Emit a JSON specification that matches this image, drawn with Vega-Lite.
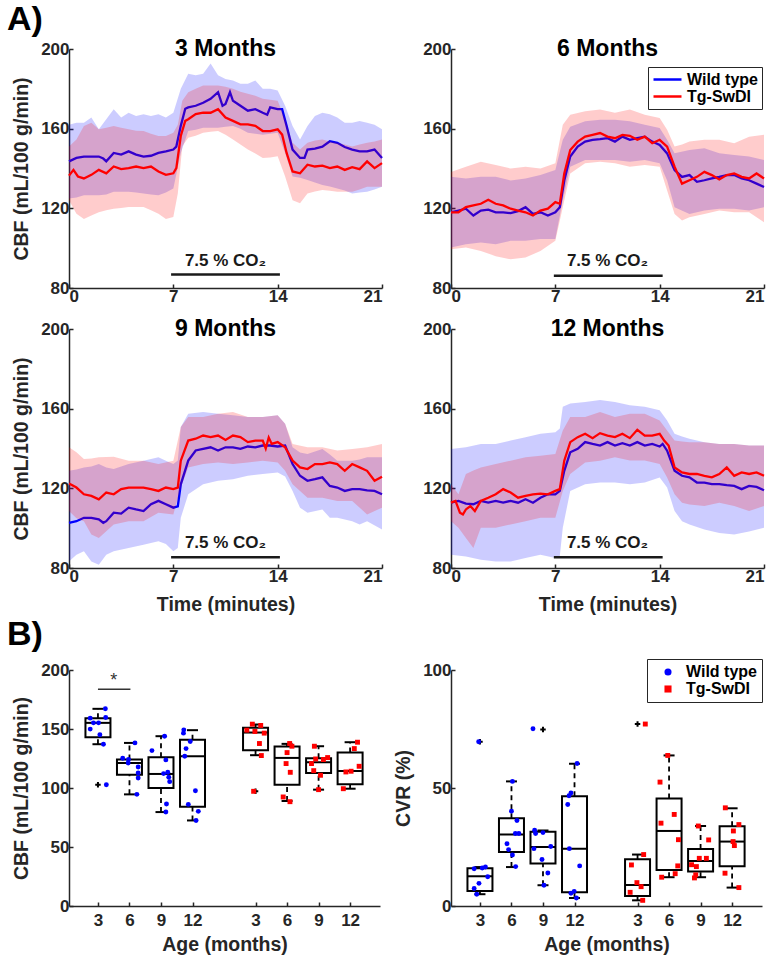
{
"$schema": "https://vega.github.io/schema/vega-lite/v6.json",
"padding": {"left": 7, "top": 3, "right": 5, "bottom": 5},
"background": "white",
"config": {
  "view": {"stroke": null},
  "font": "Liberation Sans",
  "axis": {"labelFont": "Liberation Sans", "labelFontWeight": "bold", "labelFontSize": 17, "labelColor": "#262626",
           "titleFont": "Liberation Sans", "titleFontWeight": "bold", "titleFontSize": 19.5, "titleColor": "#262626",
           "domainColor": "#262626", "domainWidth": 1.5, "tickColor": "#262626", "tickWidth": 1.5, "tickSize": -4,
           "grid": false, "labelPadding": 4, "titlePadding": 4},
  "axisX": {"titlePadding": 11},
  "axisY": {"titlePadding": 9},
  "title": {"font": "Liberation Sans", "fontSize": 23, "fontWeight": "bold", "color": "#000000", "anchor": "middle", "frame": "group", "baseline": "alphabetic", "offset": -21},
  "legend": {"labelFont": "Liberation Sans"}
},
"datasets": {
"lines": [
{"p":3,"g":"Wild type","t":0,"v":143.6},{"p":3,"g":"Wild type","t":0.5,"v":145.3},{"p":3,"g":"Wild type","t":1,"v":146},{"p":3,"g":"Wild type","t":1.5,"v":146},{"p":3,"g":"Wild type","t":2,"v":146},{"p":3,"g":"Wild type","t":2.3,"v":145},{"p":3,"g":"Wild type","t":2.5,"v":143.6},{"p":3,"g":"Wild type","t":3,"v":147.8},{"p":3,"g":"Wild type","t":3.5,"v":147},{"p":3,"g":"Wild type","t":4,"v":148.6},{"p":3,"g":"Wild type","t":4.5,"v":147},{"p":3,"g":"Wild type","t":5,"v":146},{"p":3,"g":"Wild type","t":5.5,"v":146.4},{"p":3,"g":"Wild type","t":6,"v":147.8},{"p":3,"g":"Wild type","t":6.5,"v":148.6},{"p":3,"g":"Wild type","t":7,"v":149.5},{"p":3,"g":"Wild type","t":7.2,"v":151},{"p":3,"g":"Wild type","t":7.5,"v":161.4},{"p":3,"g":"Wild type","t":7.8,"v":170},{"p":3,"g":"Wild type","t":8,"v":170.7},{"p":3,"g":"Wild type","t":8.5,"v":171.5},{"p":3,"g":"Wild type","t":9,"v":173},{"p":3,"g":"Wild type","t":9.5,"v":175},{"p":3,"g":"Wild type","t":10,"v":178.3},{"p":3,"g":"Wild type","t":10.3,"v":171.5},{"p":3,"g":"Wild type","t":10.5,"v":172.4},{"p":3,"g":"Wild type","t":10.8,"v":178.3},{"p":3,"g":"Wild type","t":11,"v":174},{"p":3,"g":"Wild type","t":11.5,"v":171.5},{"p":3,"g":"Wild type","t":12,"v":169},{"p":3,"g":"Wild type","t":12.5,"v":169.8},{"p":3,"g":"Wild type","t":13,"v":168},{"p":3,"g":"Wild type","t":13.3,"v":167},{"p":3,"g":"Wild type","t":13.5,"v":170.7},{"p":3,"g":"Wild type","t":14,"v":169.8},{"p":3,"g":"Wild type","t":14.3,"v":169.8},{"p":3,"g":"Wild type","t":14.6,"v":161.4},{"p":3,"g":"Wild type","t":15,"v":149.5},{"p":3,"g":"Wild type","t":15.5,"v":145.3},{"p":3,"g":"Wild type","t":15.8,"v":145.3},{"p":3,"g":"Wild type","t":16,"v":149.5},{"p":3,"g":"Wild type","t":16.5,"v":150},{"p":3,"g":"Wild type","t":17,"v":151},{"p":3,"g":"Wild type","t":17.5,"v":153.7},{"p":3,"g":"Wild type","t":18,"v":152.9},{"p":3,"g":"Wild type","t":18.5,"v":150.8},{"p":3,"g":"Wild type","t":19,"v":149.5},{"p":3,"g":"Wild type","t":19.5,"v":148.6},{"p":3,"g":"Wild type","t":20,"v":148.6},{"p":3,"g":"Wild type","t":20.5,"v":149.5},{"p":3,"g":"Wild type","t":21,"v":145.3},
{"p":3,"g":"Tg-SwDI","t":0,"v":136.4},{"p":3,"g":"Tg-SwDI","t":0.3,"v":139.3},{"p":3,"g":"Tg-SwDI","t":0.6,"v":136},{"p":3,"g":"Tg-SwDI","t":1,"v":135},{"p":3,"g":"Tg-SwDI","t":1.5,"v":136.8},{"p":3,"g":"Tg-SwDI","t":2,"v":139.3},{"p":3,"g":"Tg-SwDI","t":2.5,"v":137.6},{"p":3,"g":"Tg-SwDI","t":3,"v":141},{"p":3,"g":"Tg-SwDI","t":3.5,"v":139.7},{"p":3,"g":"Tg-SwDI","t":4,"v":140.2},{"p":3,"g":"Tg-SwDI","t":4.5,"v":141},{"p":3,"g":"Tg-SwDI","t":5,"v":140.2},{"p":3,"g":"Tg-SwDI","t":5.5,"v":141},{"p":3,"g":"Tg-SwDI","t":6,"v":138.5},{"p":3,"g":"Tg-SwDI","t":6.5,"v":136.8},{"p":3,"g":"Tg-SwDI","t":7,"v":137.6},{"p":3,"g":"Tg-SwDI","t":7.2,"v":140.2},{"p":3,"g":"Tg-SwDI","t":7.5,"v":156.3},{"p":3,"g":"Tg-SwDI","t":7.8,"v":163.9},{"p":3,"g":"Tg-SwDI","t":8,"v":164.7},{"p":3,"g":"Tg-SwDI","t":8.5,"v":167.3},{"p":3,"g":"Tg-SwDI","t":9,"v":168},{"p":3,"g":"Tg-SwDI","t":9.5,"v":168},{"p":3,"g":"Tg-SwDI","t":10,"v":169.8},{"p":3,"g":"Tg-SwDI","t":10.5,"v":165.6},{"p":3,"g":"Tg-SwDI","t":11,"v":163.9},{"p":3,"g":"Tg-SwDI","t":11.5,"v":162.2},{"p":3,"g":"Tg-SwDI","t":12,"v":162.2},{"p":3,"g":"Tg-SwDI","t":12.5,"v":161.4},{"p":3,"g":"Tg-SwDI","t":13,"v":158.8},{"p":3,"g":"Tg-SwDI","t":13.5,"v":158.8},{"p":3,"g":"Tg-SwDI","t":14,"v":159.7},{"p":3,"g":"Tg-SwDI","t":14.3,"v":157},{"p":3,"g":"Tg-SwDI","t":14.6,"v":147.8},{"p":3,"g":"Tg-SwDI","t":15,"v":138.5},{"p":3,"g":"Tg-SwDI","t":15.5,"v":137.6},{"p":3,"g":"Tg-SwDI","t":16,"v":141.9},{"p":3,"g":"Tg-SwDI","t":16.5,"v":141},{"p":3,"g":"Tg-SwDI","t":17,"v":141.4},{"p":3,"g":"Tg-SwDI","t":17.5,"v":140.2},{"p":3,"g":"Tg-SwDI","t":18,"v":141},{"p":3,"g":"Tg-SwDI","t":18.5,"v":139.3},{"p":3,"g":"Tg-SwDI","t":19,"v":140.7},{"p":3,"g":"Tg-SwDI","t":19.5,"v":139.7},{"p":3,"g":"Tg-SwDI","t":20,"v":143.6},{"p":3,"g":"Tg-SwDI","t":20.5,"v":140.2},{"p":3,"g":"Tg-SwDI","t":21,"v":142.7},
{"p":6,"g":"Wild type","t":0,"v":118},{"p":6,"g":"Wild type","t":0.5,"v":118.9},{"p":6,"g":"Wild type","t":1,"v":119.8},{"p":6,"g":"Wild type","t":1.5,"v":116.4},{"p":6,"g":"Wild type","t":2,"v":118.9},{"p":6,"g":"Wild type","t":2.5,"v":119.3},{"p":6,"g":"Wild type","t":3,"v":118},{"p":6,"g":"Wild type","t":3.5,"v":118},{"p":6,"g":"Wild type","t":4,"v":117.6},{"p":6,"g":"Wild type","t":4.5,"v":118.6},{"p":6,"g":"Wild type","t":5,"v":120.6},{"p":6,"g":"Wild type","t":5.5,"v":117.2},{"p":6,"g":"Wild type","t":6,"v":118},{"p":6,"g":"Wild type","t":6.5,"v":116.4},{"p":6,"g":"Wild type","t":7,"v":118},{"p":6,"g":"Wild type","t":7.3,"v":120.6},{"p":6,"g":"Wild type","t":7.6,"v":134},{"p":6,"g":"Wild type","t":8,"v":146},{"p":6,"g":"Wild type","t":8.5,"v":151},{"p":6,"g":"Wild type","t":9,"v":153.5},{"p":6,"g":"Wild type","t":9.5,"v":154.4},{"p":6,"g":"Wild type","t":10,"v":154.7},{"p":6,"g":"Wild type","t":10.5,"v":155.2},{"p":6,"g":"Wild type","t":11,"v":153.5},{"p":6,"g":"Wild type","t":11.5,"v":156},{"p":6,"g":"Wild type","t":12,"v":154.4},{"p":6,"g":"Wild type","t":12.5,"v":155.2},{"p":6,"g":"Wild type","t":13,"v":156},{"p":6,"g":"Wild type","t":13.5,"v":153.5},{"p":6,"g":"Wild type","t":14,"v":151.8},{"p":6,"g":"Wild type","t":14.5,"v":147.6},{"p":6,"g":"Wild type","t":15,"v":139.2},{"p":6,"g":"Wild type","t":15.5,"v":135.8},{"p":6,"g":"Wild type","t":16,"v":136.7},{"p":6,"g":"Wild type","t":16.5,"v":133.3},{"p":6,"g":"Wild type","t":17,"v":134.1},{"p":6,"g":"Wild type","t":17.5,"v":135},{"p":6,"g":"Wild type","t":18,"v":135.8},{"p":6,"g":"Wild type","t":18.5,"v":136.7},{"p":6,"g":"Wild type","t":19,"v":136.7},{"p":6,"g":"Wild type","t":19.5,"v":135},{"p":6,"g":"Wild type","t":20,"v":134.1},{"p":6,"g":"Wild type","t":20.5,"v":132.4},{"p":6,"g":"Wild type","t":21,"v":130.7},
{"p":6,"g":"Tg-SwDI","t":0,"v":118},{"p":6,"g":"Tg-SwDI","t":0.5,"v":118},{"p":6,"g":"Tg-SwDI","t":1,"v":120.6},{"p":6,"g":"Tg-SwDI","t":1.5,"v":121.5},{"p":6,"g":"Tg-SwDI","t":2,"v":122.3},{"p":6,"g":"Tg-SwDI","t":2.5,"v":124.3},{"p":6,"g":"Tg-SwDI","t":3,"v":122.3},{"p":6,"g":"Tg-SwDI","t":3.5,"v":121.5},{"p":6,"g":"Tg-SwDI","t":4,"v":119.8},{"p":6,"g":"Tg-SwDI","t":4.5,"v":118.9},{"p":6,"g":"Tg-SwDI","t":5,"v":118},{"p":6,"g":"Tg-SwDI","t":5.5,"v":116.4},{"p":6,"g":"Tg-SwDI","t":6,"v":118.9},{"p":6,"g":"Tg-SwDI","t":6.5,"v":119.8},{"p":6,"g":"Tg-SwDI","t":7,"v":123.1},{"p":6,"g":"Tg-SwDI","t":7.3,"v":122.3},{"p":6,"g":"Tg-SwDI","t":7.6,"v":137.5},{"p":6,"g":"Tg-SwDI","t":8,"v":149.3},{"p":6,"g":"Tg-SwDI","t":8.5,"v":153.5},{"p":6,"g":"Tg-SwDI","t":9,"v":156},{"p":6,"g":"Tg-SwDI","t":9.5,"v":156.9},{"p":6,"g":"Tg-SwDI","t":10,"v":157.8},{"p":6,"g":"Tg-SwDI","t":10.5,"v":156},{"p":6,"g":"Tg-SwDI","t":11,"v":155.2},{"p":6,"g":"Tg-SwDI","t":11.5,"v":156.9},{"p":6,"g":"Tg-SwDI","t":12,"v":156.4},{"p":6,"g":"Tg-SwDI","t":12.5,"v":154.4},{"p":6,"g":"Tg-SwDI","t":13,"v":156},{"p":6,"g":"Tg-SwDI","t":13.5,"v":152.7},{"p":6,"g":"Tg-SwDI","t":14,"v":154.4},{"p":6,"g":"Tg-SwDI","t":14.5,"v":151},{"p":6,"g":"Tg-SwDI","t":15,"v":140.9},{"p":6,"g":"Tg-SwDI","t":15.5,"v":132.4},{"p":6,"g":"Tg-SwDI","t":16,"v":134.1},{"p":6,"g":"Tg-SwDI","t":16.5,"v":135.8},{"p":6,"g":"Tg-SwDI","t":17,"v":138.3},{"p":6,"g":"Tg-SwDI","t":17.5,"v":136.7},{"p":6,"g":"Tg-SwDI","t":18,"v":134.5},{"p":6,"g":"Tg-SwDI","t":18.5,"v":136.7},{"p":6,"g":"Tg-SwDI","t":19,"v":137.5},{"p":6,"g":"Tg-SwDI","t":19.5,"v":135.8},{"p":6,"g":"Tg-SwDI","t":20,"v":135},{"p":6,"g":"Tg-SwDI","t":20.5,"v":137.5},{"p":6,"g":"Tg-SwDI","t":21,"v":135},
{"p":9,"g":"Wild type","t":0,"v":102.7},{"p":9,"g":"Wild type","t":0.5,"v":103.5},{"p":9,"g":"Wild type","t":1,"v":105.2},{"p":9,"g":"Wild type","t":1.5,"v":105.2},{"p":9,"g":"Wild type","t":2,"v":104.4},{"p":9,"g":"Wild type","t":2.3,"v":102.7},{"p":9,"g":"Wild type","t":2.5,"v":103.5},{"p":9,"g":"Wild type","t":3,"v":107.8},{"p":9,"g":"Wild type","t":3.5,"v":107.3},{"p":9,"g":"Wild type","t":4,"v":110.3},{"p":9,"g":"Wild type","t":4.5,"v":109.4},{"p":9,"g":"Wild type","t":5,"v":108.6},{"p":9,"g":"Wild type","t":5.5,"v":112},{"p":9,"g":"Wild type","t":6,"v":113.7},{"p":9,"g":"Wild type","t":6.5,"v":112},{"p":9,"g":"Wild type","t":7,"v":110.3},{"p":9,"g":"Wild type","t":7.3,"v":111},{"p":9,"g":"Wild type","t":7.5,"v":122},{"p":9,"g":"Wild type","t":8,"v":133.9},{"p":9,"g":"Wild type","t":8.5,"v":139},{"p":9,"g":"Wild type","t":9,"v":139.8},{"p":9,"g":"Wild type","t":9.5,"v":140.6},{"p":9,"g":"Wild type","t":10,"v":139},{"p":9,"g":"Wild type","t":10.5,"v":140.6},{"p":9,"g":"Wild type","t":11,"v":140.6},{"p":9,"g":"Wild type","t":11.5,"v":139.8},{"p":9,"g":"Wild type","t":12,"v":141},{"p":9,"g":"Wild type","t":12.5,"v":140.6},{"p":9,"g":"Wild type","t":13,"v":141.5},{"p":9,"g":"Wild type","t":13.5,"v":141.5},{"p":9,"g":"Wild type","t":14,"v":141},{"p":9,"g":"Wild type","t":14.5,"v":141.5},{"p":9,"g":"Wild type","t":15,"v":132.2},{"p":9,"g":"Wild type","t":15.5,"v":126.3},{"p":9,"g":"Wild type","t":16,"v":123.8},{"p":9,"g":"Wild type","t":16.5,"v":124.6},{"p":9,"g":"Wild type","t":17,"v":125.5},{"p":9,"g":"Wild type","t":17.5,"v":121.2},{"p":9,"g":"Wild type","t":18,"v":120.4},{"p":9,"g":"Wild type","t":18.5,"v":118.7},{"p":9,"g":"Wild type","t":19,"v":119.6},{"p":9,"g":"Wild type","t":19.5,"v":119.6},{"p":9,"g":"Wild type","t":20,"v":119},{"p":9,"g":"Wild type","t":20.5,"v":118.7},{"p":9,"g":"Wild type","t":21,"v":117},
{"p":9,"g":"Tg-SwDI","t":0,"v":122.4},{"p":9,"g":"Tg-SwDI","t":0.5,"v":120.4},{"p":9,"g":"Tg-SwDI","t":1,"v":117},{"p":9,"g":"Tg-SwDI","t":1.5,"v":116.2},{"p":9,"g":"Tg-SwDI","t":2,"v":114.5},{"p":9,"g":"Tg-SwDI","t":2.5,"v":117.9},{"p":9,"g":"Tg-SwDI","t":3,"v":117},{"p":9,"g":"Tg-SwDI","t":3.5,"v":119.6},{"p":9,"g":"Tg-SwDI","t":4,"v":120.4},{"p":9,"g":"Tg-SwDI","t":4.5,"v":120.4},{"p":9,"g":"Tg-SwDI","t":5,"v":120.4},{"p":9,"g":"Tg-SwDI","t":5.5,"v":119.6},{"p":9,"g":"Tg-SwDI","t":6,"v":118.7},{"p":9,"g":"Tg-SwDI","t":6.5,"v":120.4},{"p":9,"g":"Tg-SwDI","t":7,"v":119.6},{"p":9,"g":"Tg-SwDI","t":7.3,"v":120.4},{"p":9,"g":"Tg-SwDI","t":7.5,"v":133.9},{"p":9,"g":"Tg-SwDI","t":8,"v":144},{"p":9,"g":"Tg-SwDI","t":8.5,"v":144.9},{"p":9,"g":"Tg-SwDI","t":9,"v":146.5},{"p":9,"g":"Tg-SwDI","t":9.5,"v":145.7},{"p":9,"g":"Tg-SwDI","t":10,"v":146.5},{"p":9,"g":"Tg-SwDI","t":10.5,"v":144.3},{"p":9,"g":"Tg-SwDI","t":11,"v":146.5},{"p":9,"g":"Tg-SwDI","t":11.5,"v":145.7},{"p":9,"g":"Tg-SwDI","t":12,"v":143.2},{"p":9,"g":"Tg-SwDI","t":12.5,"v":144},{"p":9,"g":"Tg-SwDI","t":13,"v":144},{"p":9,"g":"Tg-SwDI","t":13.2,"v":140},{"p":9,"g":"Tg-SwDI","t":13.4,"v":145.5},{"p":9,"g":"Tg-SwDI","t":13.6,"v":142.3},{"p":9,"g":"Tg-SwDI","t":14,"v":143.2},{"p":9,"g":"Tg-SwDI","t":14.5,"v":140.6},{"p":9,"g":"Tg-SwDI","t":15,"v":133.9},{"p":9,"g":"Tg-SwDI","t":15.5,"v":130.5},{"p":9,"g":"Tg-SwDI","t":16,"v":129.7},{"p":9,"g":"Tg-SwDI","t":16.5,"v":132.2},{"p":9,"g":"Tg-SwDI","t":17,"v":132.2},{"p":9,"g":"Tg-SwDI","t":17.5,"v":133},{"p":9,"g":"Tg-SwDI","t":18,"v":132.2},{"p":9,"g":"Tg-SwDI","t":18.5,"v":128.8},{"p":9,"g":"Tg-SwDI","t":19,"v":132.2},{"p":9,"g":"Tg-SwDI","t":19.5,"v":130.5},{"p":9,"g":"Tg-SwDI","t":20,"v":128.8},{"p":9,"g":"Tg-SwDI","t":20.5,"v":123.8},{"p":9,"g":"Tg-SwDI","t":21,"v":125.8},
{"p":12,"g":"Wild type","t":0,"v":112.8},{"p":12,"g":"Wild type","t":0.5,"v":113.7},{"p":12,"g":"Wild type","t":1,"v":112.3},{"p":12,"g":"Wild type","t":1.5,"v":112},{"p":12,"g":"Wild type","t":2,"v":113.7},{"p":12,"g":"Wild type","t":2.5,"v":112.8},{"p":12,"g":"Wild type","t":3,"v":113.7},{"p":12,"g":"Wild type","t":3.5,"v":112.8},{"p":12,"g":"Wild type","t":4,"v":113.7},{"p":12,"g":"Wild type","t":4.5,"v":112.8},{"p":12,"g":"Wild type","t":5,"v":114.5},{"p":12,"g":"Wild type","t":5.5,"v":112.8},{"p":12,"g":"Wild type","t":6,"v":115.3},{"p":12,"g":"Wild type","t":6.5,"v":117},{"p":12,"g":"Wild type","t":7,"v":117},{"p":12,"g":"Wild type","t":7.3,"v":118.7},{"p":12,"g":"Wild type","t":7.6,"v":128.8},{"p":12,"g":"Wild type","t":8,"v":138.1},{"p":12,"g":"Wild type","t":8.5,"v":139.8},{"p":12,"g":"Wild type","t":9,"v":143.2},{"p":12,"g":"Wild type","t":9.5,"v":142.3},{"p":12,"g":"Wild type","t":10,"v":141.5},{"p":12,"g":"Wild type","t":10.5,"v":143.2},{"p":12,"g":"Wild type","t":11,"v":141.5},{"p":12,"g":"Wild type","t":11.5,"v":142.7},{"p":12,"g":"Wild type","t":12,"v":141.5},{"p":12,"g":"Wild type","t":12.5,"v":143.2},{"p":12,"g":"Wild type","t":13,"v":141.5},{"p":12,"g":"Wild type","t":13.5,"v":142.3},{"p":12,"g":"Wild type","t":14,"v":141},{"p":12,"g":"Wild type","t":14.2,"v":142.3},{"p":12,"g":"Wild type","t":14.5,"v":138.9},{"p":12,"g":"Wild type","t":15,"v":128.8},{"p":12,"g":"Wild type","t":15.5,"v":126.3},{"p":12,"g":"Wild type","t":16,"v":125.5},{"p":12,"g":"Wild type","t":16.5,"v":122.9},{"p":12,"g":"Wild type","t":17,"v":122.9},{"p":12,"g":"Wild type","t":17.5,"v":122.1},{"p":12,"g":"Wild type","t":18,"v":122.1},{"p":12,"g":"Wild type","t":18.5,"v":121.6},{"p":12,"g":"Wild type","t":19,"v":121.2},{"p":12,"g":"Wild type","t":19.5,"v":119.6},{"p":12,"g":"Wild type","t":20,"v":121.2},{"p":12,"g":"Wild type","t":20.5,"v":120.7},{"p":12,"g":"Wild type","t":21,"v":119},
{"p":12,"g":"Tg-SwDI","t":0,"v":112.8},{"p":12,"g":"Tg-SwDI","t":0.3,"v":113.7},{"p":12,"g":"Tg-SwDI","t":0.6,"v":107.8},{"p":12,"g":"Tg-SwDI","t":0.8,"v":106.9},{"p":12,"g":"Tg-SwDI","t":1,"v":109.4},{"p":12,"g":"Tg-SwDI","t":1.3,"v":111.1},{"p":12,"g":"Tg-SwDI","t":1.6,"v":108.6},{"p":12,"g":"Tg-SwDI","t":2,"v":113.7},{"p":12,"g":"Tg-SwDI","t":2.5,"v":115.3},{"p":12,"g":"Tg-SwDI","t":3,"v":117},{"p":12,"g":"Tg-SwDI","t":3.5,"v":119.6},{"p":12,"g":"Tg-SwDI","t":4,"v":117.9},{"p":12,"g":"Tg-SwDI","t":4.5,"v":115.3},{"p":12,"g":"Tg-SwDI","t":5,"v":116.2},{"p":12,"g":"Tg-SwDI","t":5.5,"v":117},{"p":12,"g":"Tg-SwDI","t":6,"v":117.3},{"p":12,"g":"Tg-SwDI","t":6.5,"v":117},{"p":12,"g":"Tg-SwDI","t":7,"v":118.7},{"p":12,"g":"Tg-SwDI","t":7.3,"v":119.6},{"p":12,"g":"Tg-SwDI","t":7.6,"v":133.9},{"p":12,"g":"Tg-SwDI","t":8,"v":143.2},{"p":12,"g":"Tg-SwDI","t":8.5,"v":145.7},{"p":12,"g":"Tg-SwDI","t":9,"v":147.4},{"p":12,"g":"Tg-SwDI","t":9.5,"v":145.2},{"p":12,"g":"Tg-SwDI","t":10,"v":147.7},{"p":12,"g":"Tg-SwDI","t":10.5,"v":146.5},{"p":12,"g":"Tg-SwDI","t":11,"v":145.7},{"p":12,"g":"Tg-SwDI","t":11.5,"v":147.4},{"p":12,"g":"Tg-SwDI","t":12,"v":145.2},{"p":12,"g":"Tg-SwDI","t":12.5,"v":149.4},{"p":12,"g":"Tg-SwDI","t":13,"v":146.5},{"p":12,"g":"Tg-SwDI","t":13.5,"v":146.5},{"p":12,"g":"Tg-SwDI","t":14,"v":147.4},{"p":12,"g":"Tg-SwDI","t":14.3,"v":144},{"p":12,"g":"Tg-SwDI","t":14.6,"v":141.5},{"p":12,"g":"Tg-SwDI","t":15,"v":130.5},{"p":12,"g":"Tg-SwDI","t":15.5,"v":128},{"p":12,"g":"Tg-SwDI","t":16,"v":127.2},{"p":12,"g":"Tg-SwDI","t":16.5,"v":127.2},{"p":12,"g":"Tg-SwDI","t":17,"v":126.3},{"p":12,"g":"Tg-SwDI","t":17.5,"v":125.5},{"p":12,"g":"Tg-SwDI","t":18,"v":127.2},{"p":12,"g":"Tg-SwDI","t":18.5,"v":130.5},{"p":12,"g":"Tg-SwDI","t":19,"v":126.3},{"p":12,"g":"Tg-SwDI","t":19.5,"v":128},{"p":12,"g":"Tg-SwDI","t":20,"v":127.2},{"p":12,"g":"Tg-SwDI","t":20.5,"v":128},{"p":12,"g":"Tg-SwDI","t":21,"v":126.3}
],
"bands": [
{"p":3,"g":"Wild type","t":0,"lo":125,"hi":162},{"p":3,"g":"Wild type","t":0.5,"lo":125.5,"hi":163},{"p":3,"g":"Wild type","t":1,"lo":126.6,"hi":163},{"p":3,"g":"Wild type","t":1.5,"lo":126.6,"hi":165.6},{"p":3,"g":"Wild type","t":2,"lo":126.6,"hi":159.7},{"p":3,"g":"Wild type","t":2.5,"lo":127,"hi":164.7},{"p":3,"g":"Wild type","t":3,"lo":128.3,"hi":169.8},{"p":3,"g":"Wild type","t":3.5,"lo":128.3,"hi":165.6},{"p":3,"g":"Wild type","t":4,"lo":128.3,"hi":168},{"p":3,"g":"Wild type","t":4.5,"lo":128,"hi":166.4},{"p":3,"g":"Wild type","t":5,"lo":127.5,"hi":167.3},{"p":3,"g":"Wild type","t":5.5,"lo":127,"hi":166.4},{"p":3,"g":"Wild type","t":6,"lo":126.6,"hi":167.3},{"p":3,"g":"Wild type","t":6.5,"lo":128,"hi":165.6},{"p":3,"g":"Wild type","t":7,"lo":130,"hi":168},{"p":3,"g":"Wild type","t":7.5,"lo":147.8,"hi":180},{"p":3,"g":"Wild type","t":8,"lo":158.8,"hi":187.6},{"p":3,"g":"Wild type","t":8.5,"lo":159.5,"hi":186.8},{"p":3,"g":"Wild type","t":9,"lo":160.5,"hi":187.6},{"p":3,"g":"Wild type","t":9.5,"lo":160.5,"hi":192.7},{"p":3,"g":"Wild type","t":10,"lo":160.5,"hi":186.8},{"p":3,"g":"Wild type","t":10.5,"lo":161,"hi":185},{"p":3,"g":"Wild type","t":11,"lo":161.4,"hi":184.2},{"p":3,"g":"Wild type","t":11.5,"lo":160,"hi":182.5},{"p":3,"g":"Wild type","t":12,"lo":158,"hi":182.5},{"p":3,"g":"Wild type","t":12.5,"lo":157.5,"hi":184.2},{"p":3,"g":"Wild type","t":13,"lo":157,"hi":180},{"p":3,"g":"Wild type","t":13.5,"lo":157.5,"hi":180},{"p":3,"g":"Wild type","t":14,"lo":158,"hi":179.2},{"p":3,"g":"Wild type","t":14.5,"lo":147.8,"hi":171.5},{"p":3,"g":"Wild type","t":15,"lo":136,"hi":161.4},{"p":3,"g":"Wild type","t":15.5,"lo":135.3,"hi":154.6},{"p":3,"g":"Wild type","t":16,"lo":134.2,"hi":161.4},{"p":3,"g":"Wild type","t":16.5,"lo":133,"hi":166.4},{"p":3,"g":"Wild type","t":17,"lo":131.7,"hi":168},{"p":3,"g":"Wild type","t":17.5,"lo":131,"hi":167.3},{"p":3,"g":"Wild type","t":18,"lo":130,"hi":165.6},{"p":3,"g":"Wild type","t":18.5,"lo":129,"hi":163},{"p":3,"g":"Wild type","t":19,"lo":127.5,"hi":163},{"p":3,"g":"Wild type","t":19.5,"lo":128,"hi":163.9},{"p":3,"g":"Wild type","t":20,"lo":128.3,"hi":163},{"p":3,"g":"Wild type","t":20.5,"lo":129.5,"hi":162},{"p":3,"g":"Wild type","t":21,"lo":130.8,"hi":159.7},
{"p":3,"g":"Tg-SwDI","t":0,"lo":124,"hi":151},{"p":3,"g":"Tg-SwDI","t":0.5,"lo":117.3,"hi":154.6},{"p":3,"g":"Tg-SwDI","t":1,"lo":114.7,"hi":161.4},{"p":3,"g":"Tg-SwDI","t":1.5,"lo":116.4,"hi":163},{"p":3,"g":"Tg-SwDI","t":2,"lo":118,"hi":159.7},{"p":3,"g":"Tg-SwDI","t":2.5,"lo":119,"hi":160.5},{"p":3,"g":"Tg-SwDI","t":3,"lo":119.8,"hi":161.4},{"p":3,"g":"Tg-SwDI","t":3.5,"lo":120.2,"hi":160.5},{"p":3,"g":"Tg-SwDI","t":4,"lo":120.7,"hi":159.7},{"p":3,"g":"Tg-SwDI","t":4.5,"lo":120.7,"hi":159},{"p":3,"g":"Tg-SwDI","t":5,"lo":120.7,"hi":158.8},{"p":3,"g":"Tg-SwDI","t":5.5,"lo":119,"hi":157.5},{"p":3,"g":"Tg-SwDI","t":6,"lo":117.3,"hi":156.3},{"p":3,"g":"Tg-SwDI","t":6.5,"lo":114.7,"hi":156.3},{"p":3,"g":"Tg-SwDI","t":7,"lo":115.6,"hi":158},{"p":3,"g":"Tg-SwDI","t":7.3,"lo":127.5,"hi":162},{"p":3,"g":"Tg-SwDI","t":7.6,"lo":151.2,"hi":174},{"p":3,"g":"Tg-SwDI","t":8,"lo":155.4,"hi":178.3},{"p":3,"g":"Tg-SwDI","t":8.5,"lo":156.5,"hi":180},{"p":3,"g":"Tg-SwDI","t":9,"lo":158,"hi":181.7},{"p":3,"g":"Tg-SwDI","t":9.5,"lo":158.5,"hi":181.7},{"p":3,"g":"Tg-SwDI","t":10,"lo":158.8,"hi":181.7},{"p":3,"g":"Tg-SwDI","t":10.5,"lo":157,"hi":181},{"p":3,"g":"Tg-SwDI","t":11,"lo":154.6,"hi":180},{"p":3,"g":"Tg-SwDI","t":11.5,"lo":152,"hi":178.5},{"p":3,"g":"Tg-SwDI","t":12,"lo":149.5,"hi":177.5},{"p":3,"g":"Tg-SwDI","t":12.5,"lo":147.5,"hi":176.5},{"p":3,"g":"Tg-SwDI","t":13,"lo":145.3,"hi":175},{"p":3,"g":"Tg-SwDI","t":13.5,"lo":145.5,"hi":174.5},{"p":3,"g":"Tg-SwDI","t":14,"lo":146.1,"hi":174},{"p":3,"g":"Tg-SwDI","t":14.5,"lo":136,"hi":164.7},{"p":3,"g":"Tg-SwDI","t":15,"lo":124,"hi":152.9},{"p":3,"g":"Tg-SwDI","t":15.5,"lo":122.6,"hi":149.5},{"p":3,"g":"Tg-SwDI","t":16,"lo":127.5,"hi":152.9},{"p":3,"g":"Tg-SwDI","t":16.5,"lo":128.5,"hi":154},{"p":3,"g":"Tg-SwDI","t":17,"lo":129.2,"hi":154.6},{"p":3,"g":"Tg-SwDI","t":17.5,"lo":128.8,"hi":153.5},{"p":3,"g":"Tg-SwDI","t":18,"lo":128.3,"hi":152.9},{"p":3,"g":"Tg-SwDI","t":18.5,"lo":128.3,"hi":152},{"p":3,"g":"Tg-SwDI","t":19,"lo":128.3,"hi":151},{"p":3,"g":"Tg-SwDI","t":19.5,"lo":129.5,"hi":152},{"p":3,"g":"Tg-SwDI","t":20,"lo":130.8,"hi":152.9},{"p":3,"g":"Tg-SwDI","t":20.5,"lo":130.8,"hi":153.5},{"p":3,"g":"Tg-SwDI","t":21,"lo":130.8,"hi":154.6},
{"p":6,"g":"Wild type","t":0,"lo":100.3,"hi":135.8},{"p":6,"g":"Wild type","t":1,"lo":102,"hi":135},{"p":6,"g":"Wild type","t":2,"lo":102.9,"hi":135.8},{"p":6,"g":"Wild type","t":3,"lo":102,"hi":135.8},{"p":6,"g":"Wild type","t":4,"lo":103.7,"hi":134},{"p":6,"g":"Wild type","t":5,"lo":103.7,"hi":135},{"p":6,"g":"Wild type","t":6,"lo":104.6,"hi":136.7},{"p":6,"g":"Wild type","t":7,"lo":104.6,"hi":139.2},{"p":6,"g":"Wild type","t":7.5,"lo":124,"hi":154.4},{"p":6,"g":"Wild type","t":8,"lo":140.9,"hi":161},{"p":6,"g":"Wild type","t":9,"lo":144.3,"hi":163.7},{"p":6,"g":"Wild type","t":10,"lo":144.3,"hi":164.5},{"p":6,"g":"Wild type","t":11,"lo":144.3,"hi":164.5},{"p":6,"g":"Wild type","t":12,"lo":143.4,"hi":163.7},{"p":6,"g":"Wild type","t":13,"lo":144.3,"hi":162},{"p":6,"g":"Wild type","t":14,"lo":142.6,"hi":160.3},{"p":6,"g":"Wild type","t":14.5,"lo":134,"hi":154.4},{"p":6,"g":"Wild type","t":15,"lo":120.6,"hi":147.6},{"p":6,"g":"Wild type","t":16,"lo":117.2,"hi":149.3},{"p":6,"g":"Wild type","t":17,"lo":118.9,"hi":150.2},{"p":6,"g":"Wild type","t":18,"lo":119.8,"hi":147.6},{"p":6,"g":"Wild type","t":19,"lo":119.8,"hi":146.8},{"p":6,"g":"Wild type","t":20,"lo":118.9,"hi":146},{"p":6,"g":"Wild type","t":21,"lo":120.6,"hi":144.3},
{"p":6,"g":"Tg-SwDI","t":0,"lo":99.5,"hi":138.3},{"p":6,"g":"Tg-SwDI","t":1,"lo":100.3,"hi":140.9},{"p":6,"g":"Tg-SwDI","t":2,"lo":98.6,"hi":143.4},{"p":6,"g":"Tg-SwDI","t":3,"lo":96,"hi":141.7},{"p":6,"g":"Tg-SwDI","t":4,"lo":94.4,"hi":140},{"p":6,"g":"Tg-SwDI","t":5,"lo":95.3,"hi":140.9},{"p":6,"g":"Tg-SwDI","t":6,"lo":98.6,"hi":140},{"p":6,"g":"Tg-SwDI","t":7,"lo":103.7,"hi":142.6},{"p":6,"g":"Tg-SwDI","t":7.5,"lo":120.6,"hi":162},{"p":6,"g":"Tg-SwDI","t":8,"lo":137.5,"hi":167},{"p":6,"g":"Tg-SwDI","t":9,"lo":142.6,"hi":168.8},{"p":6,"g":"Tg-SwDI","t":10,"lo":143.4,"hi":169.6},{"p":6,"g":"Tg-SwDI","t":11,"lo":142.6,"hi":168},{"p":6,"g":"Tg-SwDI","t":12,"lo":140.9,"hi":169.6},{"p":6,"g":"Tg-SwDI","t":13,"lo":141.7,"hi":167},{"p":6,"g":"Tg-SwDI","t":14,"lo":140.9,"hi":165.4},{"p":6,"g":"Tg-SwDI","t":14.5,"lo":129,"hi":159.5},{"p":6,"g":"Tg-SwDI","t":15,"lo":117.2,"hi":151},{"p":6,"g":"Tg-SwDI","t":15.5,"lo":113.9,"hi":152},{"p":6,"g":"Tg-SwDI","t":16,"lo":115.5,"hi":153.5},{"p":6,"g":"Tg-SwDI","t":17,"lo":117.2,"hi":154.4},{"p":6,"g":"Tg-SwDI","t":18,"lo":118.9,"hi":154.4},{"p":6,"g":"Tg-SwDI","t":19,"lo":118,"hi":152.7},{"p":6,"g":"Tg-SwDI","t":20,"lo":118,"hi":156},{"p":6,"g":"Tg-SwDI","t":21,"lo":113,"hi":157},
{"p":9,"g":"Wild type","t":0,"lo":83.3,"hi":128.8},{"p":9,"g":"Wild type","t":0.5,"lo":86.7,"hi":129.5},{"p":9,"g":"Wild type","t":1,"lo":88.4,"hi":130.5},{"p":9,"g":"Wild type","t":1.5,"lo":83.3,"hi":131},{"p":9,"g":"Wild type","t":2,"lo":81.6,"hi":132.2},{"p":9,"g":"Wild type","t":2.5,"lo":86.7,"hi":130.5},{"p":9,"g":"Wild type","t":3,"lo":88.4,"hi":129.7},{"p":9,"g":"Wild type","t":4,"lo":90,"hi":132.2},{"p":9,"g":"Wild type","t":5,"lo":91.7,"hi":133.9},{"p":9,"g":"Wild type","t":6,"lo":93.4,"hi":135.6},{"p":9,"g":"Wild type","t":6.5,"lo":92,"hi":133.9},{"p":9,"g":"Wild type","t":7,"lo":88.4,"hi":132.2},{"p":9,"g":"Wild type","t":7.3,"lo":90,"hi":134},{"p":9,"g":"Wild type","t":7.5,"lo":105.2,"hi":150.8},{"p":9,"g":"Wild type","t":8,"lo":117,"hi":157.5},{"p":9,"g":"Wild type","t":9,"lo":122.1,"hi":158.3},{"p":9,"g":"Wild type","t":10,"lo":123.8,"hi":157.5},{"p":9,"g":"Wild type","t":11,"lo":124.6,"hi":156.7},{"p":9,"g":"Wild type","t":12,"lo":126.3,"hi":155.8},{"p":9,"g":"Wild type","t":13,"lo":127.2,"hi":155.8},{"p":9,"g":"Wild type","t":14,"lo":128,"hi":156.7},{"p":9,"g":"Wild type","t":14.5,"lo":126,"hi":152.4},{"p":9,"g":"Wild type","t":15,"lo":118.7,"hi":140.6},{"p":9,"g":"Wild type","t":15.5,"lo":110.3,"hi":138},{"p":9,"g":"Wild type","t":16,"lo":107.8,"hi":137.3},{"p":9,"g":"Wild type","t":17,"lo":109.4,"hi":139.8},{"p":9,"g":"Wild type","t":17.5,"lo":105.2,"hi":137},{"p":9,"g":"Wild type","t":18,"lo":105.2,"hi":133.9},{"p":9,"g":"Wild type","t":19,"lo":103.5,"hi":133.9},{"p":9,"g":"Wild type","t":19.5,"lo":101.9,"hi":134.5},{"p":9,"g":"Wild type","t":20,"lo":103.5,"hi":135.6},{"p":9,"g":"Wild type","t":21,"lo":99.3,"hi":135.6},
{"p":9,"g":"Tg-SwDI","t":0,"lo":108.6,"hi":140.6},{"p":9,"g":"Tg-SwDI","t":0.5,"lo":105,"hi":138.1},{"p":9,"g":"Tg-SwDI","t":1,"lo":103.5,"hi":134.7},{"p":9,"g":"Tg-SwDI","t":1.5,"lo":96.8,"hi":135},{"p":9,"g":"Tg-SwDI","t":2,"lo":95.1,"hi":135.6},{"p":9,"g":"Tg-SwDI","t":3,"lo":101.9,"hi":135.9},{"p":9,"g":"Tg-SwDI","t":4,"lo":103.5,"hi":133.9},{"p":9,"g":"Tg-SwDI","t":5,"lo":103.5,"hi":133.9},{"p":9,"g":"Tg-SwDI","t":6,"lo":107.8,"hi":132.2},{"p":9,"g":"Tg-SwDI","t":7,"lo":106.9,"hi":133.9},{"p":9,"g":"Tg-SwDI","t":7.5,"lo":120.4,"hi":150.8},{"p":9,"g":"Tg-SwDI","t":8,"lo":130.5,"hi":155.8},{"p":9,"g":"Tg-SwDI","t":9,"lo":132.2,"hi":155.8},{"p":9,"g":"Tg-SwDI","t":10,"lo":133,"hi":157.5},{"p":9,"g":"Tg-SwDI","t":11,"lo":132.2,"hi":158.3},{"p":9,"g":"Tg-SwDI","t":12,"lo":133,"hi":155.8},{"p":9,"g":"Tg-SwDI","t":13,"lo":133.9,"hi":155.8},{"p":9,"g":"Tg-SwDI","t":14,"lo":133,"hi":156.7},{"p":9,"g":"Tg-SwDI","t":14.5,"lo":128.8,"hi":152.4},{"p":9,"g":"Tg-SwDI","t":15,"lo":122.1,"hi":142.3},{"p":9,"g":"Tg-SwDI","t":16,"lo":115.3,"hi":140.6},{"p":9,"g":"Tg-SwDI","t":17,"lo":115.3,"hi":140.6},{"p":9,"g":"Tg-SwDI","t":18,"lo":113.7,"hi":139},{"p":9,"g":"Tg-SwDI","t":19,"lo":113.7,"hi":139.8},{"p":9,"g":"Tg-SwDI","t":20,"lo":106.9,"hi":140.6},{"p":9,"g":"Tg-SwDI","t":21,"lo":110.3,"hi":142.3},
{"p":12,"g":"Wild type","t":0,"lo":86.7,"hi":139.8},{"p":12,"g":"Wild type","t":1,"lo":85.8,"hi":140.6},{"p":12,"g":"Wild type","t":2,"lo":84.2,"hi":142.3},{"p":12,"g":"Wild type","t":3,"lo":83.3,"hi":142.3},{"p":12,"g":"Wild type","t":4,"lo":83.3,"hi":144},{"p":12,"g":"Wild type","t":5,"lo":85,"hi":145.7},{"p":12,"g":"Wild type","t":6,"lo":86.7,"hi":147.4},{"p":12,"g":"Wild type","t":7,"lo":85,"hi":148.2},{"p":12,"g":"Wild type","t":7.3,"lo":86,"hi":150},{"p":12,"g":"Wild type","t":7.5,"lo":100.2,"hi":160.9},{"p":12,"g":"Wild type","t":8,"lo":118.7,"hi":162.6},{"p":12,"g":"Wild type","t":9,"lo":122.1,"hi":163.4},{"p":12,"g":"Wild type","t":10,"lo":122.9,"hi":164.3},{"p":12,"g":"Wild type","t":11,"lo":122.9,"hi":163.4},{"p":12,"g":"Wild type","t":12,"lo":122.1,"hi":161.7},{"p":12,"g":"Wild type","t":13,"lo":122.9,"hi":160.9},{"p":12,"g":"Wild type","t":14,"lo":125.5,"hi":159.2},{"p":12,"g":"Wild type","t":14.5,"lo":120.4,"hi":154.1},{"p":12,"g":"Wild type","t":15,"lo":108.6,"hi":147.4},{"p":12,"g":"Wild type","t":15.5,"lo":103.5,"hi":146},{"p":12,"g":"Wild type","t":16,"lo":101.9,"hi":144.9},{"p":12,"g":"Wild type","t":17,"lo":99.3,"hi":143.2},{"p":12,"g":"Wild type","t":18,"lo":97.6,"hi":142.3},{"p":12,"g":"Wild type","t":19,"lo":96.8,"hi":142.3},{"p":12,"g":"Wild type","t":20,"lo":98.3,"hi":141.5},{"p":12,"g":"Wild type","t":21,"lo":100.2,"hi":141.5},
{"p":12,"g":"Tg-SwDI","t":0,"lo":103.5,"hi":122.1},{"p":12,"g":"Tg-SwDI","t":0.5,"lo":100.2,"hi":117},{"p":12,"g":"Tg-SwDI","t":1,"lo":95.1,"hi":127.2},{"p":12,"g":"Tg-SwDI","t":1.5,"lo":90,"hi":129},{"p":12,"g":"Tg-SwDI","t":2,"lo":100.2,"hi":130.5},{"p":12,"g":"Tg-SwDI","t":3,"lo":100.2,"hi":132.2},{"p":12,"g":"Tg-SwDI","t":4,"lo":101.9,"hi":133.9},{"p":12,"g":"Tg-SwDI","t":5,"lo":103.5,"hi":135.6},{"p":12,"g":"Tg-SwDI","t":6,"lo":105.2,"hi":136.4},{"p":12,"g":"Tg-SwDI","t":7,"lo":105.2,"hi":137.3},{"p":12,"g":"Tg-SwDI","t":7.5,"lo":118.7,"hi":149.1},{"p":12,"g":"Tg-SwDI","t":8,"lo":127.2,"hi":155.8},{"p":12,"g":"Tg-SwDI","t":9,"lo":133,"hi":155.8},{"p":12,"g":"Tg-SwDI","t":10,"lo":133.9,"hi":158.3},{"p":12,"g":"Tg-SwDI","t":11,"lo":135.6,"hi":155.8},{"p":12,"g":"Tg-SwDI","t":12,"lo":134,"hi":157.5},{"p":12,"g":"Tg-SwDI","t":13,"lo":134,"hi":157.5},{"p":12,"g":"Tg-SwDI","t":14,"lo":132.2,"hi":154.1},{"p":12,"g":"Tg-SwDI","t":14.5,"lo":125.5,"hi":149.1},{"p":12,"g":"Tg-SwDI","t":15,"lo":117,"hi":144},{"p":12,"g":"Tg-SwDI","t":15.5,"lo":112.8,"hi":143.5},{"p":12,"g":"Tg-SwDI","t":16,"lo":111.9,"hi":143.2},{"p":12,"g":"Tg-SwDI","t":17,"lo":111.1,"hi":143.2},{"p":12,"g":"Tg-SwDI","t":18,"lo":112.8,"hi":142.3},{"p":12,"g":"Tg-SwDI","t":19,"lo":111.1,"hi":142.3},{"p":12,"g":"Tg-SwDI","t":20,"lo":108.6,"hi":141.5},{"p":12,"g":"Tg-SwDI","t":21,"lo":111.1,"hi":141.5}
],
"ann": [
{"p":3,"x1":6.85,"x2":14.15,"y":86.8,"tx":10.5,"ty":91.2},
{"p":6,"x1":6.9,"x2":14.2,"y":86.2,"tx":10.5,"ty":90.8},
{"p":9,"x1":6.85,"x2":14.15,"y":85.4,"tx":10.5,"ty":89.8},
{"p":12,"x1":6.9,"x2":14.2,"y":85.4,"tx":10.5,"ty":89.8}
],
"pts": [
{"m":"cbf","g":"Wild type","x":1.235,"v":167.1},{"m":"cbf","g":"Wild type","x":0.754,"v":159.2},{"m":"cbf","g":"Wild type","x":1.246,"v":159.8},{"m":"cbf","g":"Wild type","x":0.857,"v":155.2},{"m":"cbf","g":"Wild type","x":1.02,"v":155.2},{"m":"cbf","g":"Wild type","x":0.754,"v":149.9},{"m":"cbf","g":"Wild type","x":1.061,"v":145.1},{"m":"cbf","g":"Wild type","x":1.174,"v":137.1},{"m":"cbf","g":"Wild type","x":1.266,"v":102.8},
{"m":"cbf","g":"Wild type","x":2.174,"v":138.2},{"m":"cbf","g":"Wild type","x":1.785,"v":125.2},{"m":"cbf","g":"Wild type","x":1.969,"v":124.1},{"m":"cbf","g":"Wild type","x":1.959,"v":121.2},{"m":"cbf","g":"Wild type","x":2.276,"v":117.8},{"m":"cbf","g":"Wild type","x":2.276,"v":112.7},{"m":"cbf","g":"Wild type","x":2.276,"v":108.5},{"m":"cbf","g":"Wild type","x":2.235,"v":94.6},
{"m":"cbf","g":"Wild type","x":3.113,"v":143.9},{"m":"cbf","g":"Wild type","x":2.713,"v":131.7},{"m":"cbf","g":"Wild type","x":3.154,"v":123.8},{"m":"cbf","g":"Wild type","x":3.082,"v":112.2},{"m":"cbf","g":"Wild type","x":3.215,"v":113.3},{"m":"cbf","g":"Wild type","x":3.246,"v":109.1},{"m":"cbf","g":"Wild type","x":3.276,"v":105.4},{"m":"cbf","g":"Wild type","x":3.174,"v":86.4},{"m":"cbf","g":"Wild type","x":3.154,"v":79.6},
{"m":"cbf","g":"Wild type","x":3.724,"v":149.3},{"m":"cbf","g":"Wild type","x":3.713,"v":146.5},{"m":"cbf","g":"Wild type","x":3.928,"v":139.4},{"m":"cbf","g":"Wild type","x":3.795,"v":133.4},{"m":"cbf","g":"Wild type","x":3.754,"v":126.9},{"m":"cbf","g":"Wild type","x":4.092,"v":97.7},{"m":"cbf","g":"Wild type","x":3.867,"v":86.1},{"m":"cbf","g":"Wild type","x":4.184,"v":80.2},{"m":"cbf","g":"Wild type","x":4.113,"v":72.5},
{"m":"cbf","g":"Tg-SwDI","x":5.898,"v":154.1},{"m":"cbf","g":"Tg-SwDI","x":6.164,"v":153},{"m":"cbf","g":"Tg-SwDI","x":5.724,"v":149},{"m":"cbf","g":"Tg-SwDI","x":5.98,"v":147.9},{"m":"cbf","g":"Tg-SwDI","x":6.276,"v":146.5},{"m":"cbf","g":"Tg-SwDI","x":6.123,"v":137.7},{"m":"cbf","g":"Tg-SwDI","x":6.184,"v":127.5},{"m":"cbf","g":"Tg-SwDI","x":5.939,"v":97.2},
{"m":"cbf","g":"Tg-SwDI","x":7.082,"v":137.7},{"m":"cbf","g":"Tg-SwDI","x":7.154,"v":135.4},{"m":"cbf","g":"Tg-SwDI","x":7.0,"v":130},{"m":"cbf","g":"Tg-SwDI","x":6.969,"v":120.7},{"m":"cbf","g":"Tg-SwDI","x":7.102,"v":113.3},{"m":"cbf","g":"Tg-SwDI","x":6.877,"v":92.4},{"m":"cbf","g":"Tg-SwDI","x":7.092,"v":88.4},
{"m":"cbf","g":"Tg-SwDI","x":7.867,"v":135.4},{"m":"cbf","g":"Tg-SwDI","x":7.908,"v":124.6},{"m":"cbf","g":"Tg-SwDI","x":8.287,"v":125.8},{"m":"cbf","g":"Tg-SwDI","x":8.154,"v":124.1},{"m":"cbf","g":"Tg-SwDI","x":7.775,"v":120.7},{"m":"cbf","g":"Tg-SwDI","x":7.846,"v":114.7},{"m":"cbf","g":"Tg-SwDI","x":8.061,"v":110.8},{"m":"cbf","g":"Tg-SwDI","x":8.0,"v":98.6},
{"m":"cbf","g":"Tg-SwDI","x":9.235,"v":138.8},{"m":"cbf","g":"Tg-SwDI","x":9.133,"v":133.4},{"m":"cbf","g":"Tg-SwDI","x":9.287,"v":118.4},{"m":"cbf","g":"Tg-SwDI","x":9.031,"v":114.2},{"m":"cbf","g":"Tg-SwDI","x":8.867,"v":113.6},{"m":"cbf","g":"Tg-SwDI","x":8.785,"v":99.4},
{"m":"cvr","g":"Wild type","x":0.959,"v":69.6},{"m":"cvr","g":"Wild type","x":0.816,"v":15.8},{"m":"cvr","g":"Wild type","x":1.174,"v":16.5},{"m":"cvr","g":"Wild type","x":1.072,"v":16.1},{"m":"cvr","g":"Wild type","x":1.246,"v":12.4},{"m":"cvr","g":"Wild type","x":0.969,"v":9.6},{"m":"cvr","g":"Wild type","x":0.816,"v":7.4},{"m":"cvr","g":"Wild type","x":0.898,"v":5},
{"m":"cvr","g":"Wild type","x":2.031,"v":52.8},{"m":"cvr","g":"Wild type","x":2.0,"v":40.2},{"m":"cvr","g":"Wild type","x":2.174,"v":36.2},{"m":"cvr","g":"Wild type","x":2.235,"v":30.7},{"m":"cvr","g":"Wild type","x":2.123,"v":30.7},{"m":"cvr","g":"Wild type","x":1.857,"v":26.4},{"m":"cvr","g":"Wild type","x":1.908,"v":23.9},{"m":"cvr","g":"Wild type","x":2.031,"v":21.6},{"m":"cvr","g":"Wild type","x":2.133,"v":16.7},
{"m":"cvr","g":"Wild type","x":2.683,"v":75.1},{"m":"cvr","g":"Wild type","x":2.734,"v":32.1},{"m":"cvr","g":"Wild type","x":2.765,"v":30.7},{"m":"cvr","g":"Wild type","x":3.0,"v":31.1},{"m":"cvr","g":"Wild type","x":3.246,"v":25.2},{"m":"cvr","g":"Wild type","x":2.713,"v":24.3},{"m":"cvr","g":"Wild type","x":2.969,"v":19.7},{"m":"cvr","g":"Wild type","x":3.154,"v":14},{"m":"cvr","g":"Wild type","x":3.031,"v":8.8},
{"m":"cvr","g":"Wild type","x":4.082,"v":60.4},{"m":"cvr","g":"Wild type","x":3.887,"v":47.9},{"m":"cvr","g":"Wild type","x":3.826,"v":46.7},{"m":"cvr","g":"Wild type","x":3.785,"v":43},{"m":"cvr","g":"Wild type","x":3.836,"v":24.3},{"m":"cvr","g":"Wild type","x":4.164,"v":17},{"m":"cvr","g":"Wild type","x":3.99,"v":6.2},{"m":"cvr","g":"Wild type","x":3.887,"v":5.4},{"m":"cvr","g":"Wild type","x":4.061,"v":3.4},
{"m":"cvr","g":"Tg-SwDI","x":6.246,"v":77.1},{"m":"cvr","g":"Tg-SwDI","x":6.194,"v":21.8},{"m":"cvr","g":"Tg-SwDI","x":5.806,"v":17.4},{"m":"cvr","g":"Tg-SwDI","x":5.98,"v":9.9},{"m":"cvr","g":"Tg-SwDI","x":6.113,"v":8.2},{"m":"cvr","g":"Tg-SwDI","x":5.765,"v":5.8},{"m":"cvr","g":"Tg-SwDI","x":6.164,"v":2.4},
{"m":"cvr","g":"Tg-SwDI","x":6.959,"v":63.8},{"m":"cvr","g":"Tg-SwDI","x":6.713,"v":52.5},{"m":"cvr","g":"Tg-SwDI","x":7.164,"v":38.8},{"m":"cvr","g":"Tg-SwDI","x":6.744,"v":35.1},{"m":"cvr","g":"Tg-SwDI","x":7.297,"v":28.1},{"m":"cvr","g":"Tg-SwDI","x":7.276,"v":17},{"m":"cvr","g":"Tg-SwDI","x":7.194,"v":13.7},{"m":"cvr","g":"Tg-SwDI","x":6.765,"v":12.2},
{"m":"cvr","g":"Tg-SwDI","x":7.928,"v":33.9},{"m":"cvr","g":"Tg-SwDI","x":8.256,"v":28},{"m":"cvr","g":"Tg-SwDI","x":7.959,"v":20.2},{"m":"cvr","g":"Tg-SwDI","x":8.184,"v":20.2},{"m":"cvr","g":"Tg-SwDI","x":7.713,"v":17.5},{"m":"cvr","g":"Tg-SwDI","x":7.867,"v":16.7},{"m":"cvr","g":"Tg-SwDI","x":7.846,"v":13.2},{"m":"cvr","g":"Tg-SwDI","x":7.806,"v":11.9},
{"m":"cvr","g":"Tg-SwDI","x":8.785,"v":41.6},{"m":"cvr","g":"Tg-SwDI","x":9.215,"v":34.5},{"m":"cvr","g":"Tg-SwDI","x":9.041,"v":31.8},{"m":"cvr","g":"Tg-SwDI","x":9.031,"v":27.3},{"m":"cvr","g":"Tg-SwDI","x":9.072,"v":25.6},{"m":"cvr","g":"Tg-SwDI","x":8.775,"v":13.9},{"m":"cvr","g":"Tg-SwDI","x":9.215,"v":7.8}
],
"box": [
{"m":"cbf","pos":1,"q1":143.1,"med":155.2,"q3":159.2,"lo":137.1,"hi":167.1},
{"m":"cbf","pos":2,"q1":111.3,"med":121.2,"q3":124.1,"lo":94.6,"hi":138.2},
{"m":"cbf","pos":3,"q1":100,"med":111.9,"q3":126.1,"lo":79.6,"hi":143.9},
{"m":"cbf","pos":4,"q1":84.1,"med":126.9,"q3":140.8,"lo":72.5,"hi":149},
{"m":"cbf","pos":6,"q1":132,"med":147,"q3":151,"lo":127.8,"hi":153.8},
{"m":"cbf","pos":7,"q1":102.8,"med":125.5,"q3":135.1,"lo":89,"hi":137.4},
{"m":"cbf","pos":8,"q1":112.7,"med":121.8,"q3":125.2,"lo":98.6,"hi":135.4},
{"m":"cbf","pos":9,"q1":103.1,"med":114.4,"q3":130,"lo":99.4,"hi":138.8},
{"m":"cvr","pos":1,"q1":6.4,"med":12.6,"q3":16,"lo":5,"hi":16.5},
{"m":"cvr","pos":2,"q1":22.9,"med":30.3,"q3":37.2,"lo":16.5,"hi":52.8},
{"m":"cvr","pos":3,"q1":18,"med":25,"q3":31.5,"lo":8.8,"hi":32},
{"m":"cvr","pos":4,"q1":5.8,"med":24.3,"q3":46.5,"lo":3.4,"hi":60.3},
{"m":"cvr","pos":6,"q1":4.2,"med":8.9,"q3":19.8,"lo":2.4,"hi":21.8},
{"m":"cvr","pos":7,"q1":15.3,"med":31.8,"q3":45.5,"lo":12.2,"hi":63.8},
{"m":"cvr","pos":8,"q1":14.6,"med":19.1,"q3":24.2,"lo":12.2,"hi":33.9},
{"m":"cvr","pos":9,"q1":16.8,"med":27.3,"q3":33.8,"lo":7.8,"hi":41.4}
],
"outl": [
{"m":"cbf","pos":1,"v":102.8},{"m":"cbf","pos":6,"v":97.2},
{"m":"cvr","pos":1,"v":69.6},{"m":"cvr","pos":3,"v":74.8},{"m":"cvr","pos":6,"v":77.1}
],
"star": [{"x1":1.0,"x2":2.03,"y":183.6,"tx":1.5,"ty":190.5}]
},
"title": {"text": "A)", "anchor": "start", "frame": "group", "fontSize": 34, "dx": -62, "offset": -26, "baseline": "alphabetic"},
"columns": 2,
"bounds": "flush",
"spacing": {"row": 41, "column": 69},
"resolve": {"scale": {"color": "independent", "shape": "independent"}, "legend": {"color": "independent", "shape": "independent"}},
"concat": [
    {"width": 313, "height": 239, "title": {"text": "3 Months"},
     "layer": [
      {"data": {"name": "bands"}, "transform": [{"filter": "datum.p==3 && datum.g=='Wild type'"}], "mark": {"type": "area", "color": "#0000ff", "opacity": 0.2},
       "encoding": {"x": {"field": "t", "type": "quantitative", "scale": {"domain": [0, 21], "nice": false}, "axis": {"values": [0, 7, 14, 21], "title": null}},
                    "y": {"field": "lo", "type": "quantitative", "scale": {"domain": [80, 200], "nice": false}, "axis": {"values": [80, 100, 120, 140, 160, 180, 200], "title": "CBF (mL/100 g/min)"}},
                    "y2": {"field": "hi"}}},
      {"data": {"name": "lines"}, "transform": [{"filter": "datum.p==3 && datum.g=='Wild type'"}], "mark": {"type": "line", "strokeWidth": 2.3},
       "encoding": {"x": {"field": "t", "type": "quantitative"}, "y": {"field": "v", "type": "quantitative"},
                    "color": {"field": "g", "type": "nominal", "scale": {"domain": ["Wild type", "Tg-SwDI"], "range": ["#0000ff", "#ff0000"]}, "legend": null}}},
      {"data": {"name": "bands"}, "transform": [{"filter": "datum.p==3 && datum.g=='Tg-SwDI'"}], "mark": {"type": "area", "color": "#ff0000", "opacity": 0.2},
       "encoding": {"x": {"field": "t", "type": "quantitative"}, "y": {"field": "lo", "type": "quantitative"}, "y2": {"field": "hi"}}},
      {"data": {"name": "lines"}, "transform": [{"filter": "datum.p==3 && datum.g=='Tg-SwDI'"}], "mark": {"type": "line", "strokeWidth": 2.3},
       "encoding": {"x": {"field": "t", "type": "quantitative"}, "y": {"field": "v", "type": "quantitative"},
                    "color": {"field": "g", "type": "nominal", "scale": {"domain": ["Wild type", "Tg-SwDI"], "range": ["#0000ff", "#ff0000"]}, "legend": null}}},
      {"data": {"name": "ann"}, "transform": [{"filter": "datum.p==3"}], "mark": {"type": "rule", "color": "#1a1a1a", "strokeWidth": 2.5},
       "encoding": {"x": {"field": "x1", "type": "quantitative"}, "x2": {"field": "x2"}, "y": {"field": "y", "type": "quantitative"}}},
      {"data": {"name": "ann"}, "transform": [{"filter": "datum.p==3"}], "mark": {"type": "text", "text": "7.5 % CO₂", "fontSize": 17, "fontWeight": "bold", "align": "center", "baseline": "alphabetic", "color": "#1a1a1a"},
       "encoding": {"x": {"field": "tx", "type": "quantitative"}, "y": {"field": "ty", "type": "quantitative"}}}
     ]},
    {"width": 313, "height": 239, "title": {"text": "6 Months"},
     "layer": [
      {"data": {"name": "bands"}, "transform": [{"filter": "datum.p==6 && datum.g=='Wild type'"}], "mark": {"type": "area", "color": "#0000ff", "opacity": 0.2},
       "encoding": {"x": {"field": "t", "type": "quantitative", "scale": {"domain": [0, 21], "nice": false}, "axis": {"values": [0, 7, 14, 21], "title": null}},
                    "y": {"field": "lo", "type": "quantitative", "scale": {"domain": [80, 200], "nice": false}, "axis": {"values": [80, 100, 120, 140, 160, 180, 200], "title": null}},
                    "y2": {"field": "hi"}}},
      {"data": {"name": "lines"}, "transform": [{"filter": "datum.p==6 && datum.g=='Wild type'"}], "mark": {"type": "line", "strokeWidth": 2.3},
       "encoding": {"x": {"field": "t", "type": "quantitative"}, "y": {"field": "v", "type": "quantitative"},
                    "color": {"field": "g", "type": "nominal", "scale": {"domain": ["Wild type", "Tg-SwDI"], "range": ["#0000ff", "#ff0000"]},
                              "legend": {"title": null, "orient": "none", "legendX": 197, "legendY": 18, "symbolType": "M-2,0L2,0", "symbolSize": 196, "symbolStrokeWidth": 2.5, "labelOffset": 11, "symbolOffset": 7, "strokeColor": "#262626", "fillColor": "white", "padding": 4, "labelFontSize": 16, "labelFontWeight": "bold", "labelColor": "#000000", "rowPadding": -5}}}},
      {"data": {"name": "bands"}, "transform": [{"filter": "datum.p==6 && datum.g=='Tg-SwDI'"}], "mark": {"type": "area", "color": "#ff0000", "opacity": 0.2},
       "encoding": {"x": {"field": "t", "type": "quantitative"}, "y": {"field": "lo", "type": "quantitative"}, "y2": {"field": "hi"}}},
      {"data": {"name": "lines"}, "transform": [{"filter": "datum.p==6 && datum.g=='Tg-SwDI'"}], "mark": {"type": "line", "strokeWidth": 2.3},
       "encoding": {"x": {"field": "t", "type": "quantitative"}, "y": {"field": "v", "type": "quantitative"},
                    "color": {"field": "g", "type": "nominal", "scale": {"domain": ["Wild type", "Tg-SwDI"], "range": ["#0000ff", "#ff0000"]},
                              "legend": {"title": null, "orient": "none", "legendX": 197, "legendY": 18, "symbolType": "M-2,0L2,0", "symbolSize": 196, "symbolStrokeWidth": 2.5, "labelOffset": 11, "symbolOffset": 7, "strokeColor": "#262626", "fillColor": "white", "padding": 4, "labelFontSize": 16, "labelFontWeight": "bold", "labelColor": "#000000", "rowPadding": -5}}}},
      {"data": {"name": "ann"}, "transform": [{"filter": "datum.p==6"}], "mark": {"type": "rule", "color": "#1a1a1a", "strokeWidth": 2.5},
       "encoding": {"x": {"field": "x1", "type": "quantitative"}, "x2": {"field": "x2"}, "y": {"field": "y", "type": "quantitative"}}},
      {"data": {"name": "ann"}, "transform": [{"filter": "datum.p==6"}], "mark": {"type": "text", "text": "7.5 % CO₂", "fontSize": 17, "fontWeight": "bold", "align": "center", "baseline": "alphabetic", "color": "#1a1a1a"},
       "encoding": {"x": {"field": "tx", "type": "quantitative"}, "y": {"field": "ty", "type": "quantitative"}}}
     ]},
    {"width": 313, "height": 239, "title": {"text": "9 Months"},
     "layer": [
      {"data": {"name": "bands"}, "transform": [{"filter": "datum.p==9 && datum.g=='Wild type'"}], "mark": {"type": "area", "color": "#0000ff", "opacity": 0.2},
       "encoding": {"x": {"field": "t", "type": "quantitative", "scale": {"domain": [0, 21], "nice": false}, "axis": {"values": [0, 7, 14, 21], "title": "Time (minutes)"}},
                    "y": {"field": "lo", "type": "quantitative", "scale": {"domain": [80, 200], "nice": false}, "axis": {"values": [80, 100, 120, 140, 160, 180, 200], "title": "CBF (mL/100 g/min)"}},
                    "y2": {"field": "hi"}}},
      {"data": {"name": "lines"}, "transform": [{"filter": "datum.p==9 && datum.g=='Wild type'"}], "mark": {"type": "line", "strokeWidth": 2.3},
       "encoding": {"x": {"field": "t", "type": "quantitative"}, "y": {"field": "v", "type": "quantitative"},
                    "color": {"field": "g", "type": "nominal", "scale": {"domain": ["Wild type", "Tg-SwDI"], "range": ["#0000ff", "#ff0000"]}, "legend": null}}},
      {"data": {"name": "bands"}, "transform": [{"filter": "datum.p==9 && datum.g=='Tg-SwDI'"}], "mark": {"type": "area", "color": "#ff0000", "opacity": 0.2},
       "encoding": {"x": {"field": "t", "type": "quantitative"}, "y": {"field": "lo", "type": "quantitative"}, "y2": {"field": "hi"}}},
      {"data": {"name": "lines"}, "transform": [{"filter": "datum.p==9 && datum.g=='Tg-SwDI'"}], "mark": {"type": "line", "strokeWidth": 2.3},
       "encoding": {"x": {"field": "t", "type": "quantitative"}, "y": {"field": "v", "type": "quantitative"},
                    "color": {"field": "g", "type": "nominal", "scale": {"domain": ["Wild type", "Tg-SwDI"], "range": ["#0000ff", "#ff0000"]}, "legend": null}}},
      {"data": {"name": "ann"}, "transform": [{"filter": "datum.p==9"}], "mark": {"type": "rule", "color": "#1a1a1a", "strokeWidth": 2.5},
       "encoding": {"x": {"field": "x1", "type": "quantitative"}, "x2": {"field": "x2"}, "y": {"field": "y", "type": "quantitative"}}},
      {"data": {"name": "ann"}, "transform": [{"filter": "datum.p==9"}], "mark": {"type": "text", "text": "7.5 % CO₂", "fontSize": 17, "fontWeight": "bold", "align": "center", "baseline": "alphabetic", "color": "#1a1a1a"},
       "encoding": {"x": {"field": "tx", "type": "quantitative"}, "y": {"field": "ty", "type": "quantitative"}}}
     ]},
    {"width": 313, "height": 239, "title": {"text": "12 Months"},
     "layer": [
      {"data": {"name": "bands"}, "transform": [{"filter": "datum.p==12 && datum.g=='Wild type'"}], "mark": {"type": "area", "color": "#0000ff", "opacity": 0.2},
       "encoding": {"x": {"field": "t", "type": "quantitative", "scale": {"domain": [0, 21], "nice": false}, "axis": {"values": [0, 7, 14, 21], "title": "Time (minutes)"}},
                    "y": {"field": "lo", "type": "quantitative", "scale": {"domain": [80, 200], "nice": false}, "axis": {"values": [80, 100, 120, 140, 160, 180, 200], "title": null}},
                    "y2": {"field": "hi"}}},
      {"data": {"name": "lines"}, "transform": [{"filter": "datum.p==12 && datum.g=='Wild type'"}], "mark": {"type": "line", "strokeWidth": 2.3},
       "encoding": {"x": {"field": "t", "type": "quantitative"}, "y": {"field": "v", "type": "quantitative"},
                    "color": {"field": "g", "type": "nominal", "scale": {"domain": ["Wild type", "Tg-SwDI"], "range": ["#0000ff", "#ff0000"]}, "legend": null}}},
      {"data": {"name": "bands"}, "transform": [{"filter": "datum.p==12 && datum.g=='Tg-SwDI'"}], "mark": {"type": "area", "color": "#ff0000", "opacity": 0.2},
       "encoding": {"x": {"field": "t", "type": "quantitative"}, "y": {"field": "lo", "type": "quantitative"}, "y2": {"field": "hi"}}},
      {"data": {"name": "lines"}, "transform": [{"filter": "datum.p==12 && datum.g=='Tg-SwDI'"}], "mark": {"type": "line", "strokeWidth": 2.3},
       "encoding": {"x": {"field": "t", "type": "quantitative"}, "y": {"field": "v", "type": "quantitative"},
                    "color": {"field": "g", "type": "nominal", "scale": {"domain": ["Wild type", "Tg-SwDI"], "range": ["#0000ff", "#ff0000"]}, "legend": null}}},
      {"data": {"name": "ann"}, "transform": [{"filter": "datum.p==12"}], "mark": {"type": "rule", "color": "#1a1a1a", "strokeWidth": 2.5},
       "encoding": {"x": {"field": "x1", "type": "quantitative"}, "x2": {"field": "x2"}, "y": {"field": "y", "type": "quantitative"}}},
      {"data": {"name": "ann"}, "transform": [{"filter": "datum.p==12"}], "mark": {"type": "text", "text": "7.5 % CO₂", "fontSize": 17, "fontWeight": "bold", "align": "center", "baseline": "alphabetic", "color": "#1a1a1a"},
       "encoding": {"x": {"field": "tx", "type": "quantitative"}, "y": {"field": "ty", "type": "quantitative"}}}
     ]},
  {"width": 311, "height": 297,
   "title": {"text": "B)", "anchor": "start", "frame": "group", "fontSize": 34, "dx": -62, "offset": -70, "baseline": "alphabetic"},
   "layer": [
    {"data": {"name": "box"}, "transform": [{"filter": "datum.m=='cbf'"}], "mark": {"type": "rule", "strokeDash": [5, 4], "strokeWidth": 1.8, "color": "#000000"},
     "encoding": {"x": {"field": "pos", "type": "quantitative", "scale": {"domain": [0.24, 9.79], "nice": false, "zero": false}, "axis": {"values": [1, 2, 3, 4, 6, 7, 8, 9], "labelExpr": "datum.value < 5 ? '' + (datum.value * 3) : '' + ((datum.value - 5) * 3)", "title": "Age (months)", "labelPadding": 10, "titlePadding": 7}},
                  "y": {"field": "q3", "type": "quantitative", "scale": {"domain": [0, 200], "nice": false, "range": [297, 61]}, "axis": {"values": [0, 50, 100, 150, 200], "title": "CBF (mL/100 g/min)"}},
                  "y2": {"field": "hi"}}},
    {"data": {"name": "box"}, "transform": [{"filter": "datum.m=='cbf'"}], "mark": {"type": "rule", "strokeDash": [5, 4], "strokeWidth": 1.8, "color": "#000000"},
     "encoding": {"x": {"field": "pos", "type": "quantitative"}, "y": {"field": "lo", "type": "quantitative"}, "y2": {"field": "q1"}}},
    {"data": {"name": "box"}, "transform": [{"filter": "datum.m=='cbf'"}], "mark": {"type": "tick", "orient": "horizontal", "size": 11, "thickness": 2, "color": "#000000", "opacity": 1},
     "encoding": {"x": {"field": "pos", "type": "quantitative"}, "y": {"field": "hi", "type": "quantitative"}}},
    {"data": {"name": "box"}, "transform": [{"filter": "datum.m=='cbf'"}], "mark": {"type": "tick", "orient": "horizontal", "size": 11, "thickness": 2, "color": "#000000", "opacity": 1},
     "encoding": {"x": {"field": "pos", "type": "quantitative"}, "y": {"field": "lo", "type": "quantitative"}}},
    {"data": {"name": "box"}, "transform": [{"filter": "datum.m=='cbf'"}], "mark": {"type": "bar", "orient": "vertical", "size": 25, "fillOpacity": 0, "fill": "white", "stroke": "#000000", "strokeWidth": 2},
     "encoding": {"x": {"field": "pos", "type": "quantitative"}, "y": {"field": "q1", "type": "quantitative"}, "y2": {"field": "q3"}}},
    {"data": {"name": "box"}, "transform": [{"filter": "datum.m=='cbf'"}], "mark": {"type": "tick", "orient": "horizontal", "size": 25, "thickness": 2, "color": "#000000", "opacity": 1},
     "encoding": {"x": {"field": "pos", "type": "quantitative"}, "y": {"field": "med", "type": "quantitative"}}},
    {"data": {"name": "outl"}, "transform": [{"filter": "datum.m=='cbf'"}], "mark": {"type": "point", "shape": "M-1,0L1,0M0,-1L0,1", "size": 30, "filled": false, "stroke": "#000000", "strokeWidth": 2, "opacity": 1},
     "encoding": {"x": {"field": "pos", "type": "quantitative"}, "y": {"field": "v", "type": "quantitative"}}},
    {"data": {"name": "pts"}, "transform": [{"filter": "datum.m=='cbf'"}], "mark": {"type": "point", "filled": true, "size": 24, "opacity": 1},
     "encoding": {"x": {"field": "x", "type": "quantitative"}, "y": {"field": "v", "type": "quantitative"},
                  "color": {"field": "g", "type": "nominal", "scale": {"domain": ["Wild type", "Tg-SwDI"], "range": ["#0000ff", "#ff0000"]}, "legend": null},
                  "shape": {"field": "g", "type": "nominal", "scale": {"domain": ["Wild type", "Tg-SwDI"], "range": ["circle", "square"]}, "legend": null}}},
    {"data": {"name": "star"}, "mark": {"type": "rule", "color": "#333333", "strokeWidth": 1.5},
     "encoding": {"x": {"field": "x1", "type": "quantitative"}, "x2": {"field": "x2"}, "y": {"field": "y", "type": "quantitative"}}},
    {"data": {"name": "star"}, "mark": {"type": "text", "text": "*", "fontSize": 18, "align": "center", "baseline": "middle", "color": "#333333"},
     "encoding": {"x": {"field": "tx", "type": "quantitative"}, "y": {"field": "ty", "type": "quantitative"}}}
   ]},
  {"width": 311, "height": 297,
   "layer": [
    {"data": {"name": "box"}, "transform": [{"filter": "datum.m=='cvr'"}], "mark": {"type": "rule", "strokeDash": [5, 4], "strokeWidth": 1.8, "color": "#000000"},
     "encoding": {"x": {"field": "pos", "type": "quantitative", "scale": {"domain": [0.24, 9.79], "nice": false, "zero": false}, "axis": {"values": [1, 2, 3, 4, 6, 7, 8, 9], "labelExpr": "datum.value < 5 ? '' + (datum.value * 3) : '' + ((datum.value - 5) * 3)", "title": "Age (months)", "labelPadding": 10, "titlePadding": 7}},
                  "y": {"field": "q3", "type": "quantitative", "scale": {"domain": [0, 100], "nice": false, "range": [297, 61]}, "axis": {"values": [0, 50, 100], "title": "CVR (%)"}},
                  "y2": {"field": "hi"}}},
    {"data": {"name": "box"}, "transform": [{"filter": "datum.m=='cvr'"}], "mark": {"type": "rule", "strokeDash": [5, 4], "strokeWidth": 1.8, "color": "#000000"},
     "encoding": {"x": {"field": "pos", "type": "quantitative"}, "y": {"field": "lo", "type": "quantitative"}, "y2": {"field": "q1"}}},
    {"data": {"name": "box"}, "transform": [{"filter": "datum.m=='cvr'"}], "mark": {"type": "tick", "orient": "horizontal", "size": 11, "thickness": 2, "color": "#000000", "opacity": 1},
     "encoding": {"x": {"field": "pos", "type": "quantitative"}, "y": {"field": "hi", "type": "quantitative"}}},
    {"data": {"name": "box"}, "transform": [{"filter": "datum.m=='cvr'"}], "mark": {"type": "tick", "orient": "horizontal", "size": 11, "thickness": 2, "color": "#000000", "opacity": 1},
     "encoding": {"x": {"field": "pos", "type": "quantitative"}, "y": {"field": "lo", "type": "quantitative"}}},
    {"data": {"name": "box"}, "transform": [{"filter": "datum.m=='cvr'"}], "mark": {"type": "bar", "orient": "vertical", "size": 25, "fillOpacity": 0, "fill": "white", "stroke": "#000000", "strokeWidth": 2},
     "encoding": {"x": {"field": "pos", "type": "quantitative"}, "y": {"field": "q1", "type": "quantitative"}, "y2": {"field": "q3"}}},
    {"data": {"name": "box"}, "transform": [{"filter": "datum.m=='cvr'"}], "mark": {"type": "tick", "orient": "horizontal", "size": 25, "thickness": 2, "color": "#000000", "opacity": 1},
     "encoding": {"x": {"field": "pos", "type": "quantitative"}, "y": {"field": "med", "type": "quantitative"}}},
    {"data": {"name": "outl"}, "transform": [{"filter": "datum.m=='cvr'"}], "mark": {"type": "point", "shape": "M-1,0L1,0M0,-1L0,1", "size": 30, "filled": false, "stroke": "#000000", "strokeWidth": 2, "opacity": 1},
     "encoding": {"x": {"field": "pos", "type": "quantitative"}, "y": {"field": "v", "type": "quantitative"}}},
    {"data": {"name": "pts"}, "transform": [{"filter": "datum.m=='cvr'"}], "mark": {"type": "point", "filled": true, "size": 24, "opacity": 1},
     "encoding": {"x": {"field": "x", "type": "quantitative"}, "y": {"field": "v", "type": "quantitative"},
                  "color": {"field": "g", "type": "nominal", "scale": {"domain": ["Wild type", "Tg-SwDI"], "range": ["#0000ff", "#ff0000"]},
                            "legend": {"title": null, "orient": "none", "legendX": 196, "legendY": 50, "strokeColor": "#262626", "fillColor": "white", "padding": 5, "symbolSize": 50, "symbolOffset": 8, "labelOffset": 10, "labelFontSize": 16, "labelFontWeight": "bold", "labelColor": "#000000", "rowPadding": 1, "symbolOpacity": 1}},
                  "shape": {"field": "g", "type": "nominal", "scale": {"domain": ["Wild type", "Tg-SwDI"], "range": ["circle", "square"]},
                            "legend": {"title": null, "orient": "none", "legendX": 196, "legendY": 50, "strokeColor": "#262626", "fillColor": "white", "padding": 5, "symbolSize": 50, "symbolOffset": 8, "labelOffset": 10, "labelFontSize": 16, "labelFontWeight": "bold", "labelColor": "#000000", "rowPadding": 1, "symbolOpacity": 1}}}}
   ]}
]
}
